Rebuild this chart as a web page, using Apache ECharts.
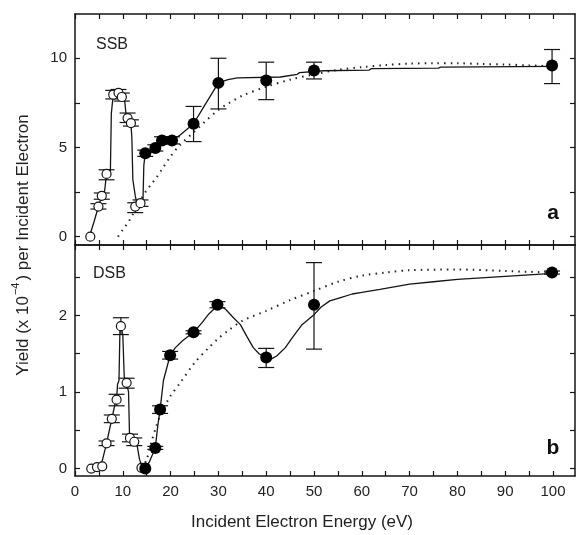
<!DOCTYPE html>
<html><head><meta charset="utf-8">
<script src="https://cdn.jsdelivr.net/npm/echarts@6/dist/echarts.min.js"></script>
<style>html,body{margin:0;padding:0;background:#fff}#c{width:577px;height:535px}</style>
</head><body><div id="c"></div>
<script>
// ---- tick labels ----
const xTicks = [0,5,10,15,20,25,30,35,40,45,50,55,60,65,70,75,80,85,90,95,100];
const xLabels = [0,10,20,30,40,50,60,70,80,90,100];
const ssbTicks = [0,2.5,5,7.5,10];
const ssbLabels = [0,5,10];
const dsbTicks = [0,0.5,1,1.5,2,2.5];
const dsbLabels = [0,1,2];

// ---- SSB (panel a) ----
const ssbOpenE  = [3.2, 4.9, 5.6, 6.6, 8.0, 9.1, 9.8, 11.0, 11.7, 12.6, 13.7];
const ssbOpenY  = [0.0, 1.69, 2.29, 3.52, 7.96, 8.06, 7.83, 6.65, 6.37, 1.69, 1.88];
const ssbOpenLo = [0.0, 1.55, 2.1, 3.19, 7.72, 7.8, 7.6, 6.4, 6.2, 1.35, 1.7];
const ssbOpenHi = [0.0, 1.85, 2.45, 3.75, 8.2, 8.25, 8.05, 6.93, 6.55, 1.9, 2.06];
const ssbFillE  = [14.7, 16.8, 18.2, 20.3, 24.8, 30, 40, 50, 99.8];
const ssbFillY  = [4.68, 4.97, 5.39, 5.39, 6.33, 8.62, 8.76, 9.31, 9.59];
const ssbFillLo = [4.5, 4.8, 5.2, 5.2, 5.33, 7.16, 7.68, 8.84, 8.58];
const ssbFillHi = [4.85, 5.15, 5.6, 5.6, 7.3, 10.0, 9.78, 9.78, 10.49];
const ssbSolid = [[3,0],[4,0.85],[4.9,1.69],[5.3,1.75],[5.6,2.29],[6.1,2.35],[6.6,3.52],[7.4,3.6],[7.6,6.9],[8.0,7.96],[9.1,8.06],[9.8,7.83],[10.4,7.6],[10.7,6.8],[11.0,6.65],[11.7,6.37],[11.9,5.5],[12.1,3.2],[12.6,2.3],[13.0,1.8],[13.7,1.88],[14.2,1.8],[14.4,4.0],[14.7,4.68],[16.0,4.75],[16.8,4.97],[17.5,5.1],[18.2,5.39],[20.3,5.39],[22,5.7],[24.8,6.33],[27,7.3],[30,8.62],[32,8.8],[34,8.9],[43,8.95],[46.5,9.1],[47,9.2],[52,9.3],[61.5,9.33],[62,9.42],[76,9.45],[76.5,9.5],[100,9.55]];
const ssbModel = [[9,0],[10,0.4],[11,0.75],[12,1.2],[13,1.7],[14,2.2],[15,2.6],[16,2.95],[17,3.3],[18,3.7],[20,4.5],[22,5.15],[25,5.9],[27,6.4],[30,7.1],[32,7.45],[35,7.9],[40,8.4],[45,8.8],[50,9.1],[55,9.35],[60,9.5],[65,9.62],[70,9.7],[75,9.72],[80,9.72],[85,9.68],[90,9.65],[95,9.6],[100,9.55]];

// ---- DSB (panel b) ----
const dsbOpenE  = [3.4, 4.6, 5.7, 6.6, 7.7, 8.7, 9.6, 10.8, 11.5, 12.4, 13.9];
const dsbOpenY  = [0, 0.02, 0.03, 0.33, 0.65, 0.9, 1.86, 1.12, 0.40, 0.35, 0.01];
const dsbOpenLo = [0, 0.02, 0.03, 0.3, 0.6, 0.82, 1.75, 1.05, 0.35, 0.3, 0.01];
const dsbOpenHi = [0, 0.02, 0.03, 0.36, 0.7, 0.97, 1.97, 1.18, 0.45, 0.4, 0.01];
const dsbFillE  = [14.7, 16.8, 17.8, 19.9, 24.8, 29.8, 40, 50, 99.8];
const dsbFillY  = [0.0, 0.27, 0.77, 1.48, 1.78, 2.14, 1.45, 2.14, 2.56];
const dsbFillLo = [0.0, 0.25, 0.72, 1.43, 1.76, 2.1, 1.32, 1.56, 2.54];
const dsbFillHi = [0.0, 0.29, 0.82, 1.53, 1.8, 2.18, 1.57, 2.69, 2.58];
const dsbSolid = [[3.4,0.0],[4.6,0.02],[5.7,0.1],[6.6,0.33],[7.7,0.65],[8.4,0.85],[8.7,0.9],[8.9,1.1],[9.2,1.15],[9.4,1.8],[9.6,1.86],[10.0,1.75],[10.3,1.2],[10.8,1.12],[11.2,1.0],[11.4,0.45],[11.5,0.40],[12.2,0.36],[13.0,0.3],[13.5,0.12],[14.0,0.03],[14.7,0.0],[15.5,0.08],[16.8,0.27],[17.3,0.55],[17.8,0.77],[18.5,1.15],[19.9,1.48],[21,1.58],[22.5,1.67],[24.8,1.78],[26.5,1.9],[28,2.02],[30,2.14],[31.5,2.08],[33,1.98],[34.6,1.88],[36,1.72],[37.3,1.58],[38.5,1.5],[40,1.44],[41,1.43],[42.2,1.47],[44,1.58],[45.7,1.73],[47.5,1.88],[50,2.01],[51.5,2.11],[53.3,2.19],[55.4,2.23],[58,2.28],[60,2.3],[63.8,2.34],[70,2.41],[75,2.44],[80,2.47],[85,2.49],[90,2.51],[95,2.53],[100,2.55]];
const dsbModel = [[14,0],[15,0.12],[16,0.35],[17,0.55],[18,0.72],[20,0.95],[22,1.12],[25,1.38],[28,1.58],[30,1.7],[32,1.8],[35,1.93],[40,2.06],[45,2.2],[50,2.32],[55,2.44],[60,2.52],[65,2.56],[70,2.59],[80,2.6],[90,2.58],[100,2.56]];

const INK = '#151515';
const FONT = 'Liberation Sans, Arial, sans-serif';
const zip2 = (a, b) => a.map((v, i) => [v, b[i]]);
const zip3 = (a, b, c) => a.map((v, i) => [v, b[i], c[i]]);

function errRender(params, api) {
  const x = api.value(0), lo = api.value(1), hi = api.value(2);
  if (hi - lo <= 0) return null;
  const a = api.coord([x, lo]), b = api.coord([x, hi]);
  const w = 8;
  const st = { stroke: INK, lineWidth: 1.2 };
  return { type: 'group', children: [
    { type: 'line', shape: { x1: a[0], y1: a[1], x2: b[0], y2: b[1] }, style: st },
    { type: 'line', shape: { x1: a[0] - w, y1: a[1], x2: a[0] + w, y2: a[1] }, style: st },
    { type: 'line', shape: { x1: b[0] - w, y1: b[1], x2: b[0] + w, y2: b[1] }, style: st }
  ]};
}

const frame = { show: true, onZero: false, lineStyle: { color: INK, width: 1.5 } };
function xAx(grid, pos, labels) {
  return { type: 'value', gridIndex: grid, position: pos, min: 0, max: 104.6,
    axisLine: frame, splitLine: { show: false },
    axisTick: { show: true, inside: true, length: 5, customValues: xTicks, lineStyle: { color: INK, width: 1.2 } },
    axisLabel: labels ? { show: true, customValues: xLabels, color: '#222', fontSize: 15, fontFamily: FONT, margin: 8 } : { show: false } };
}
function yAx(grid, pos, min, max, ticks, labels) {
  return { type: 'value', gridIndex: grid, position: pos, min: min, max: max,
    axisLine: frame, splitLine: { show: false },
    axisTick: { show: true, inside: true, length: 5, customValues: ticks, lineStyle: { color: INK, width: 1.2 } },
    axisLabel: labels ? { show: true, customValues: labels, color: '#222', fontSize: 15, fontFamily: FONT, margin: 8 } : { show: false } };
}

function panelSeries(xi, yi, solid, model, openE, openY, openLo, openHi, fillE, fillY, fillLo, fillHi) {
  return [
    { type: 'line', xAxisIndex: xi, yAxisIndex: yi, data: model, showSymbol: false, smooth: 0.3,
      lineStyle: { color: '#222', width: 2, type: [1.5, 5] }, z: 2, silent: true },
    { type: 'line', xAxisIndex: xi, yAxisIndex: yi, data: solid, showSymbol: false,
      lineStyle: { color: INK, width: 1.3 }, z: 3, silent: true },
    { type: 'custom', xAxisIndex: xi, yAxisIndex: yi, data: zip3(openE, openLo, openHi), renderItem: errRender, encode: { x: 0, y: [1, 2] }, z: 4, silent: true },
    { type: 'custom', xAxisIndex: xi, yAxisIndex: yi, data: zip3(fillE, fillLo, fillHi), renderItem: errRender, encode: { x: 0, y: [1, 2] }, z: 4, silent: true },
    { type: 'scatter', xAxisIndex: xi, yAxisIndex: yi, data: zip2(openE, openY), symbol: 'circle', symbolSize: 9,
      itemStyle: { color: '#fff', borderColor: INK, borderWidth: 1.2, opacity: 1 }, z: 5, silent: true },
    { type: 'scatter', xAxisIndex: xi, yAxisIndex: yi, data: zip2(fillE, fillY), symbol: 'circle', symbolSize: 12,
      itemStyle: { color: '#000', opacity: 1 }, z: 6, silent: true }
  ];
}

const chart = echarts.init(document.getElementById('c'), null, { renderer: 'canvas' });
chart.setOption({
  animation: false,
  backgroundColor: '#fff',
  grid: [
    { left: 75, width: 500, top: 14, height: 231 },
    { left: 75, width: 500, top: 245, height: 231 }
  ],
  xAxis: [ xAx(0, 'bottom', false), xAx(0, 'top', false), xAx(1, 'bottom', true), xAx(1, 'top', false) ],
  yAxis: [
    yAx(0, 'left', -0.465, 12.48, ssbTicks, ssbLabels), yAx(0, 'right', -0.465, 12.48, ssbTicks, null),
    yAx(1, 'left', -0.097, 2.92, dsbTicks, dsbLabels), yAx(1, 'right', -0.097, 2.92, dsbTicks, null)
  ],
  series: [].concat(
    panelSeries(0, 0, ssbSolid, ssbModel, ssbOpenE, ssbOpenY, ssbOpenLo, ssbOpenHi, ssbFillE, ssbFillY, ssbFillLo, ssbFillHi),
    panelSeries(2, 2, dsbSolid, dsbModel, dsbOpenE, dsbOpenY, dsbOpenLo, dsbOpenHi, dsbFillE, dsbFillY, dsbFillLo, dsbFillHi)
  ),
  graphic: [
    { type: 'text', left: 96, top: 37, style: { text: 'SSB', fontSize: 16, fill: '#222', fontFamily: FONT } },
    { type: 'text', left: 93, top: 266, style: { text: 'DSB', fontSize: 16, fill: '#222', fontFamily: FONT } },
    { type: 'text', x: 553, y: 213, style: { text: 'a', fontSize: 21, fontWeight: 'bold', fill: '#111', align: 'center', verticalAlign: 'middle', fontFamily: FONT } },
    { type: 'text', x: 553, y: 448, style: { text: 'b', fontSize: 21, fontWeight: 'bold', fill: '#111', align: 'center', verticalAlign: 'middle', fontFamily: FONT } },
    { type: 'text', x: 302, y: 522, style: { text: 'Incident Electron Energy (eV)', fontSize: 17, fill: '#222', align: 'center', verticalAlign: 'middle', fontFamily: FONT } },
    { type: 'text', x: 21, y: 245, rotation: Math.PI / 2,
      style: { text: '{n|Yield (x 10}{s|−4}{n|) per Incident Electron}', align: 'center', verticalAlign: 'middle',
        rich: { n: { fontSize: 17, lineHeight: 22, fill: '#222', fontFamily: FONT, verticalAlign: 'bottom' },
                s: { fontSize: 11, lineHeight: 22, fill: '#222', fontFamily: FONT, verticalAlign: 'top', padding: [0, 2, 0, 1] } } } }
  ]
});
</script></body></html>
